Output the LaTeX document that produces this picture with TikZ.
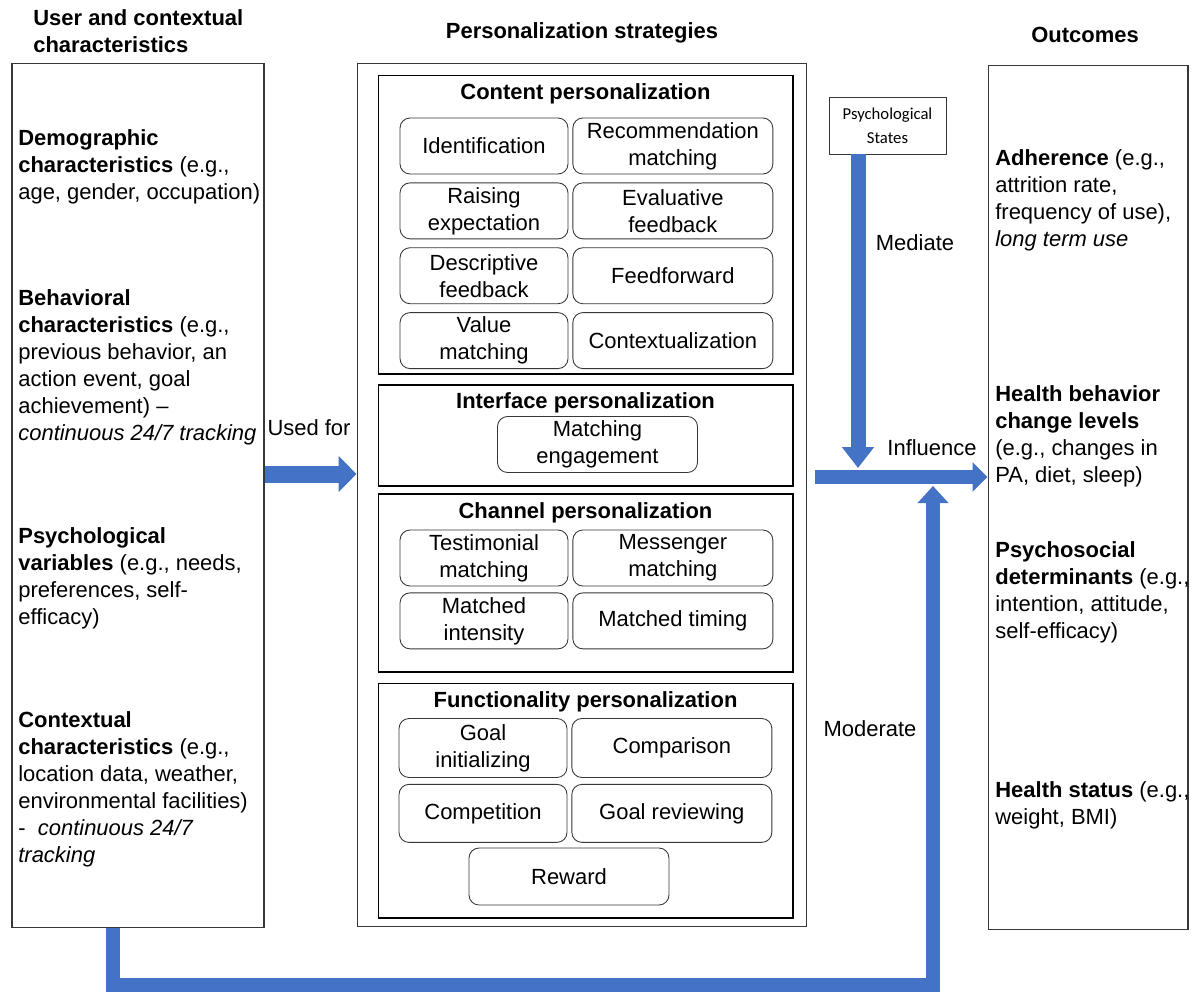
\documentclass[tikz,border=0pt]{standalone}
\usepackage{fontspec}
\setmainfont{Liberation Sans}
\newfontfamily\calfont{Carlito}
\usepackage{xcolor}
\usepackage{tikz}
\usetikzlibrary{arrows.meta, positioning}
\definecolor{arrowblue}{RGB}{68,114,196}
\definecolor{framegray}{RGB}{55,55,55}
\newcommand{\txtsize}{\fontsize{12.5pt}{15.4pt}\selectfont}
\tikzset{
  col/.style={rectangle,draw=framegray,line width=0.6pt,
              minimum height=17.28cm,inner sep=0pt},
  grp/.style={rectangle,draw=black,line width=0.6pt,
              minimum width=8.3cm,inner sep=0pt},
  opt/.style={rectangle,draw=framegray,line width=0.5pt,rounded corners=0.2cm,
              minimum width=3.36cm,minimum height=1.12cm,
              font=\txtsize,align=center,inner sep=0pt},
  wopt/.style={opt,minimum width=4cm},
  ttl/.style={font=\txtsize\bfseries,inner sep=0pt},
  txt/.style={font=\txtsize,align=left,anchor=north west,inner sep=0pt},
  lbl/.style={font=\txtsize,inner sep=0pt},
  arr/.style={line width=0.3cm,draw=arrowblue,
              -{Triangle[width=0.6cm,length=0.34cm]}},
}

\begin{document}
\begin{tikzpicture}[x=0.02cm,y=-0.02cm,node distance=0.16cm and 0.08cm]
  \useasboundingbox (0,0) rectangle (1192,993);

  % headers
  \node[txt,font=\txtsize\bfseries](userhd) at (33,9){User and contextual\\characteristics};
  \node[ttl](strathd) at (582,33){Personalization strategies};
  \node[ttl](outhd) at (1085,35){Outcomes};

  % columns
  \node[col,minimum width=5.04cm](userbox) at (138,495.5){};
  \node[col,minimum width=9cm](stratbox) at (582,495){};
  \node[col,minimum width=4cm](outbox) at (1088,497.5){};

  % content personalization
  \node[grp,minimum height=5.98cm](contgrp) at (585.5,224.5){};
  \node[ttl](contttl) at (585.5,94){Content personalization};
  \node[opt](ident) at (484,146){Identification};
  \node[wopt,right=of ident](recom){Recommendation\\matching};
  \node[opt,below=of ident](raise){Raising\\expectation};
  \node[wopt,right=of raise](evalfb){Evaluative\\feedback};
  \node[opt,below=of raise](descfb){Descriptive\\feedback};
  \node[wopt,right=of descfb](feedfw){Feedforward};
  \node[opt,below=of descfb](value){Value\\matching};
  \node[wopt,right=of value](context){Contextualization};

  % interface personalization
  \node[grp,minimum height=2.02cm](intgrp) at (585.5,435.5){};
  \node[ttl](intttl) at (585.5,403){Interface personalization};
  \node[wopt](engage) at (597.5,444.5){Matching\\engagement};

  % channel personalization
  \node[grp,minimum height=3.56cm](changrp) at (585.5,583){};
  \node[ttl](chanttl) at (585.5,513){Channel personalization};
  \node[opt](testim) at (484,558){Testimonial\\matching};
  \node[wopt,right=of testim](messng){Messenger\\matching};
  \node[opt,below=0.12cm of testim](intens){Matched\\intensity};
  \node[wopt,right=of intens](timing){Matched timing};

  % functionality personalization
  \node[grp,minimum height=4.7cm](funcgrp) at (585.5,800.5){};
  \node[ttl](functtl) at (585.5,702){Functionality personalization};
  \node[opt,minimum height=1.18cm](goalin) at (483,748){Goal\\initializing};
  \node[wopt,minimum height=1.18cm,right=of goalin](compar){Comparison};
  \node[opt,minimum height=1.16cm,below=0.12cm of goalin](compet){Competition};
  \node[wopt,minimum height=1.16cm,right=of compet](goalrv){Goal reviewing};
  \node[wopt,minimum height=1.14cm](reward) at (569,876.5){Reward};

  % psychological states
  \node[draw=framegray,line width=0.5pt,minimum width=2.34cm,minimum height=1.14cm,
        align=center,inner sep=0pt,font=\calfont\fontsize{9.5pt}{13.6pt}\selectfont]
        (psych) at (887.5,125.5){Psychological\\States};

  % user and contextual characteristics
  \node[txt](demo) at (18,129){\textbf{Demographic}\\\textbf{characteristics} (e.g.,\\age, gender, occupation)};
  \node[txt](behav) at (18,289){\textbf{Behavioral}\\\textbf{characteristics} (e.g.,\\previous behavior, an\\action event, goal\\achievement) –\\\textit{continuous 24/7 tracking}};
  \node[txt](psyvar) at (18,527){\textbf{Psychological}\\\textbf{variables} (e.g., needs,\\preferences, self-\\efficacy)};
  \node[txt](contx) at (18,711){\textbf{Contextual}\\\textbf{characteristics} (e.g.,\\location data, weather,\\environmental facilities)\\- \ \textit{continuous 24/7}\\\textit{tracking}};

  % outcomes
  \node[txt](adher) at (995,149){\textbf{Adherence} (e.g.,\\attrition rate,\\frequency of use),\\\textit{long term use}};
  \node[txt](hbc) at (995,385){\textbf{Health behavior}\\\textbf{change levels}\\(e.g., changes in\\PA, diet, sleep)};
  \node[txt](psysoc) at (995,541){\textbf{Psychosocial}\\\textbf{determinants} (e.g.,\\intention, attitude,\\self-efficacy)};
  \node[txt](hstat) at (995,781){\textbf{Health status} (e.g.,\\weight, BMI)};

  % connectors
  \coordinate(uf) at (0,474);
  \coordinate(inf) at (815,477);
  \coordinate(medend) at (858,468);
  \coordinate(modbl) at (113,985);
  \coordinate(modbr) at (933,985);
  \coordinate(modend) at (933,486);
  \draw[arr,line width=0.34cm,-{Triangle[width=0.7cm,length=0.36cm]}]
    (userbox.east |- uf)--(stratbox.west |- uf);
  \draw[arr,line width=0.28cm,-{Triangle[width=0.58cm,length=0.3cm]}]
    (inf)--(outbox.west |- inf);
  \draw[arr,-{Triangle[width=0.62cm,length=0.42cm]}](psych.south -| medend)--(medend);
  \draw[arr,line width=0.29cm](userbox.south -| modbl)--(modbl)--(modbr)--(modend);

  % labels
  \node[lbl](usedlbl) at (309,428){Used for};
  \node[lbl](medlbl) at (915,243){Mediate};
  \node[lbl](inflbl) at (932,448){Influence};
  \node[lbl](modlbl) at (870,729){Moderate};
\end{tikzpicture}
\end{document}
